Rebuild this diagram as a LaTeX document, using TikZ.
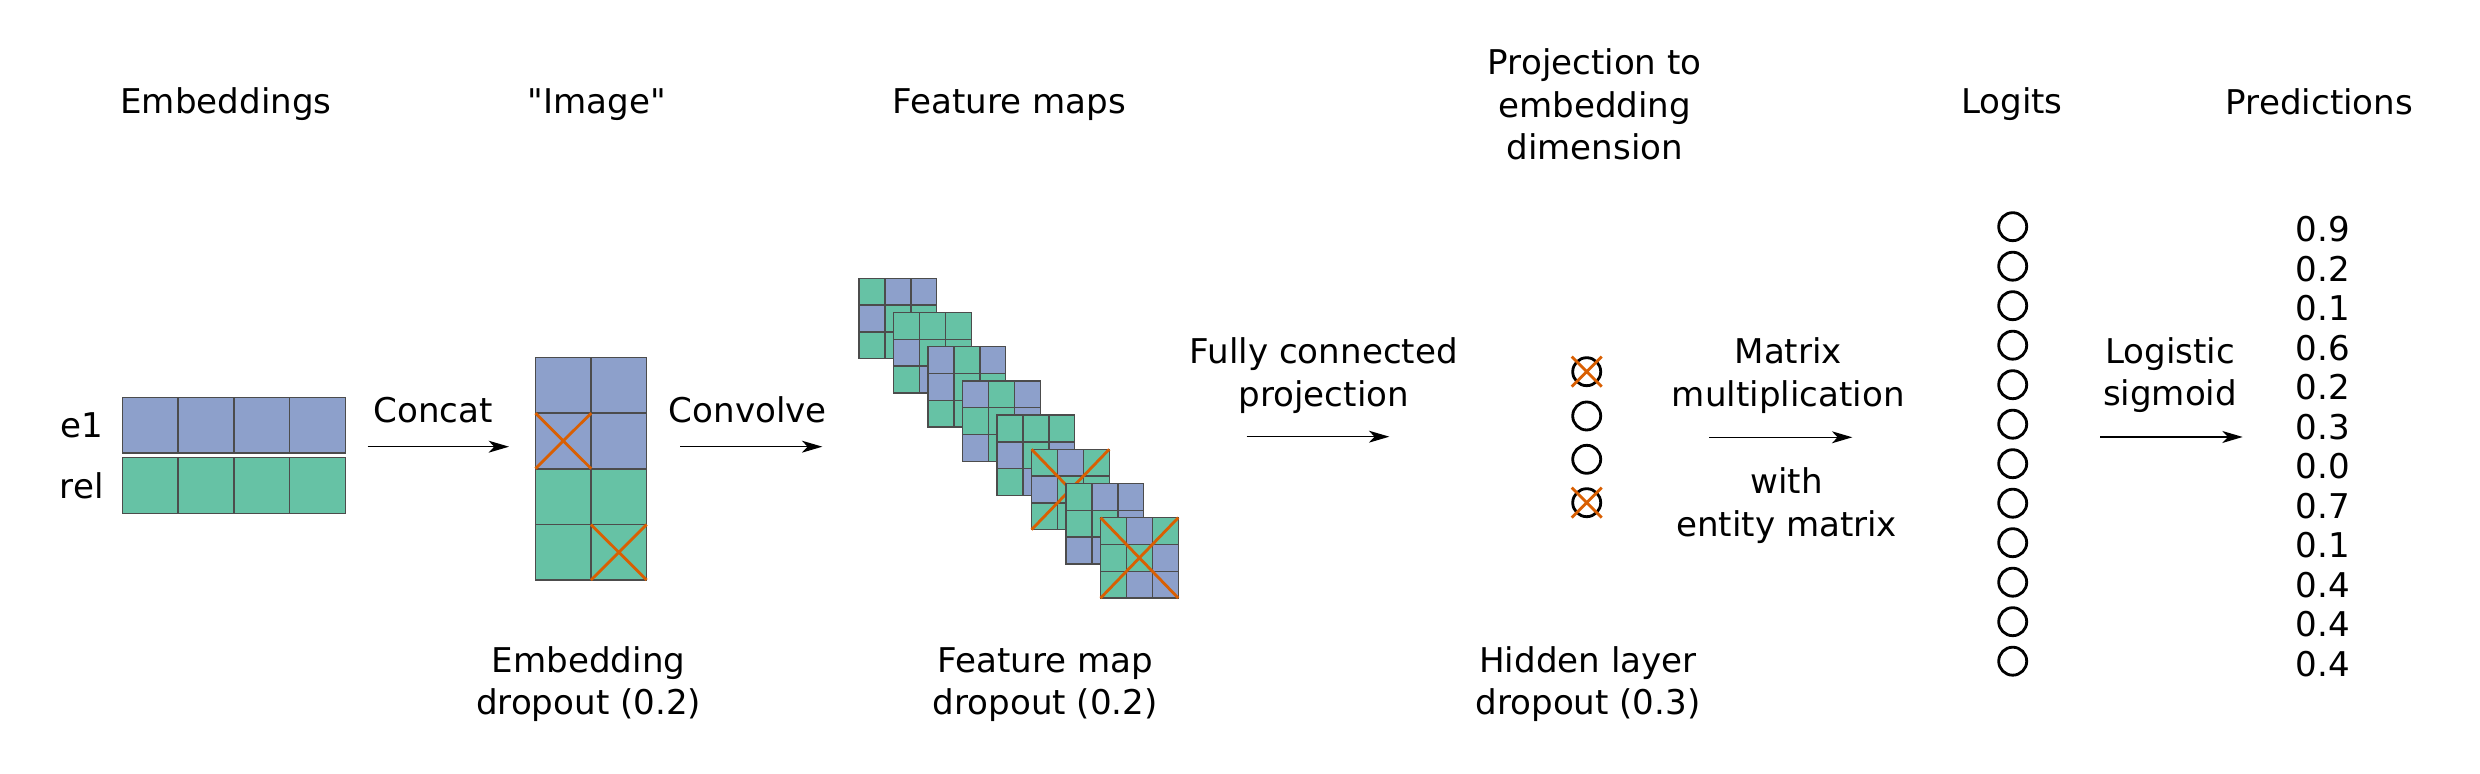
\documentclass[tikz,border=0pt]{standalone}
\usepackage{fontspec}
\setmainfont{DejaVu Sans}[Ligatures=TeXOff]
\usetikzlibrary{arrows.meta, positioning, calc}
\definecolor{embblue}{HTML}{8DA0CB}
\definecolor{relgreen}{HTML}{66C2A5}
\definecolor{dropred}{HTML}{D95F02}
\tikzset{
  lbl/.style={font=\fontsize{9.7pt}{12.2pt}\selectfont, inner sep=0pt, align=center},
  cell/.style={rectangle, draw=black!70, line width=0.4pt, inner sep=0pt, outer sep=0pt},
  cellb/.style={cell, fill=embblue},
  cellg/.style={cell, fill=relgreen},
  embcell/.style={minimum width=5.57mm, minimum height=5.55mm},
  fmcell/.style={minimum width=2.59mm, minimum height=2.68mm},
  unit/.style={circle, draw=black, line width=0.8pt, minimum size=2.8mm, inner sep=0pt},
  dropx/.style={draw=dropred, line width=0.8pt},
  arrow/.style={-{Stealth[length=5.8pt, width=3.4pt, inset=1.6pt]}, line width=0.4pt},
}

\begin{document}
\begin{tikzpicture}[x=0.1mm, y=-0.1mm]
    \useasboundingbox (0,0) rectangle (2480,774);

    % titles
    \node[lbl, anchor=base] (tEmb) at (226,113.3) {Embeddings};
    \node[lbl, anchor=base] (tImg) at (597,113.3) {"Image"};
    \node[lbl, anchor=base] (tFm) at (1009.5,113.3) {Feature maps};
    \node[lbl, anchor=base] (tProj) at (1594.7,160) {Projection to\\embedding\\dimension};
    \node[lbl, anchor=base] (tLog) at (2011.8,113.3) {Logits};
    \node[lbl, anchor=base] (tPred) at (2319.5,115) {Predictions};

    % embeddings
    \foreach \i in {0,...,3} {
      \node[cellb, embcell] (e1-\i) at ({150.2+55.8*\i},425.2) {};
      \node[cellg, embcell] (rel-\i) at ({150.2+55.8*\i},485.5) {};
    }
    \node[lbl, anchor=base] (e1lbl) at (81.7,437.3) {e1};
    \node[lbl, anchor=base] (rellbl) at (81.7,499) {rel};

    % image
    \foreach \r/\c in {0/b,1/b,2/g,3/g}
      \foreach \k in {0,1}
        \node[cell\c, embcell] (img-\r-\k) at ({563.3+55.5*\k},{385.2+55.7*\r}) {};
    \draw[dropx] (img-1-0.north west) -- (img-1-0.south east)
                 (img-1-0.south west) -- (img-1-0.north east);
    \draw[dropx] (img-3-1.north west) -- (img-3-1.south east)
                 (img-3-1.south west) -- (img-3-1.north east);

    % feature maps
    \foreach \m/\pat/\drop in {0/{g,b,b,b,g,g,g,g,g}/0, 1/{g,g,g,b,g,g,g,b,g}/0,
        2/{b,g,b,b,g,g,g,g,b}/0, 3/{b,g,b,g,g,b,b,g,g}/0, 4/{g,g,g,b,g,b,g,b,g}/0,
        5/{g,b,g,b,g,g,g,g,b}/1, 6/{g,b,b,g,g,b,b,b,g}/0, 7/{g,b,g,g,g,b,g,b,b}/1} {
      \foreach \c [count=\i from 0] in \pat {
        \pgfmathtruncatemacro{\row}{\i/3}
        \pgfmathtruncatemacro{\col}{\i-3*\row}
        \node[cell\c, fmcell] (fm\m-\i) at ({872+34.5*\m+25.9*\col},{291.7+34.2*\m+26.8*\row}) {};
      }
      \ifnum\drop=1
        \draw[dropx] (fm\m-0.north west) -- (fm\m-8.south east)
                     (fm\m-6.south west) -- (fm\m-2.north east);
      \fi
    }

    % hidden layer
    \foreach \y [count=\k] in {371.7,416,459.3,502.7}
      \node[unit] (h\k) at (1586.7,\y) {};
    \draw[dropx] (h1.center) +(-15,-15) -- +(15,15) +(-15,15) -- +(15,-15);
    \draw[dropx] (h4.center) +(-15,-15) -- +(15,15) +(-15,15) -- +(15,-15);

    % logits and predictions
    \foreach \k in {0,...,11}
      \node[unit] (logit\k) at (2012.7,{226.7+39.5*\k}) {};
    \foreach \p [count=\k from 0] in {0.9,0.2,0.1,0.6,0.2,0.3,0.0,0.7,0.1,0.4,0.4,0.4}
      \node[lbl, anchor=base] (pred\k) at (2323,{241.7+39.5*\k}) {\p};

    % operations
    \node[lbl, anchor=base] (concat) at (433,422.7) {Concat};
    \node[lbl, anchor=base] (conv) at (747.8,422.7) {Convolve};
    \node[lbl, anchor=base] (fc) at (1323.8,406.7) {Fully connected\\projection};
    \node[lbl, anchor=base] (matmul) at (1788.3,406.7) {Matrix\\multiplication};
    \node[lbl, anchor=base] (entmat) at (1786.7,536.7) {with\\entity matrix};
    \node[lbl, anchor=base] (sigm) at (2170,406) {Logistic\\ sigmoid};

    \coordinate (concatS) at (367.5,446.7); \coordinate (concatE) at (509,446.7);
    \coordinate (convS) at (680,446.7);     \coordinate (convE) at (822.3,446.7);
    \coordinate (fcS) at (1246.7,436.7);    \coordinate (fcE) at (1389.3,436.7);
    \coordinate (mmS) at (1709.3,437.3);    \coordinate (mmE) at (1852.3,437.3);
    \coordinate (sigS) at (2100,437);       \coordinate (sigE) at (2242.7,437);
    \draw[arrow] (concatS) -- (concatE);
    \draw[arrow] (convS) -- (convE);
    \draw[arrow] (fcS) -- (fcE);
    \draw[arrow] (mmS) -- (mmE);
    \draw[arrow] (sigS) -- (sigE);

    % dropout notes
    \node[lbl, anchor=base] (dEmb) at (588.6,715) {Embedding\\dropout (0.2)};
    \node[lbl, anchor=base] (dFm) at (1045.3,715) {Feature map\\dropout (0.2)};
    \node[lbl, anchor=base] (dHid) at (1588,715) {Hidden layer\\dropout (0.3)};
\end{tikzpicture}
\end{document}
